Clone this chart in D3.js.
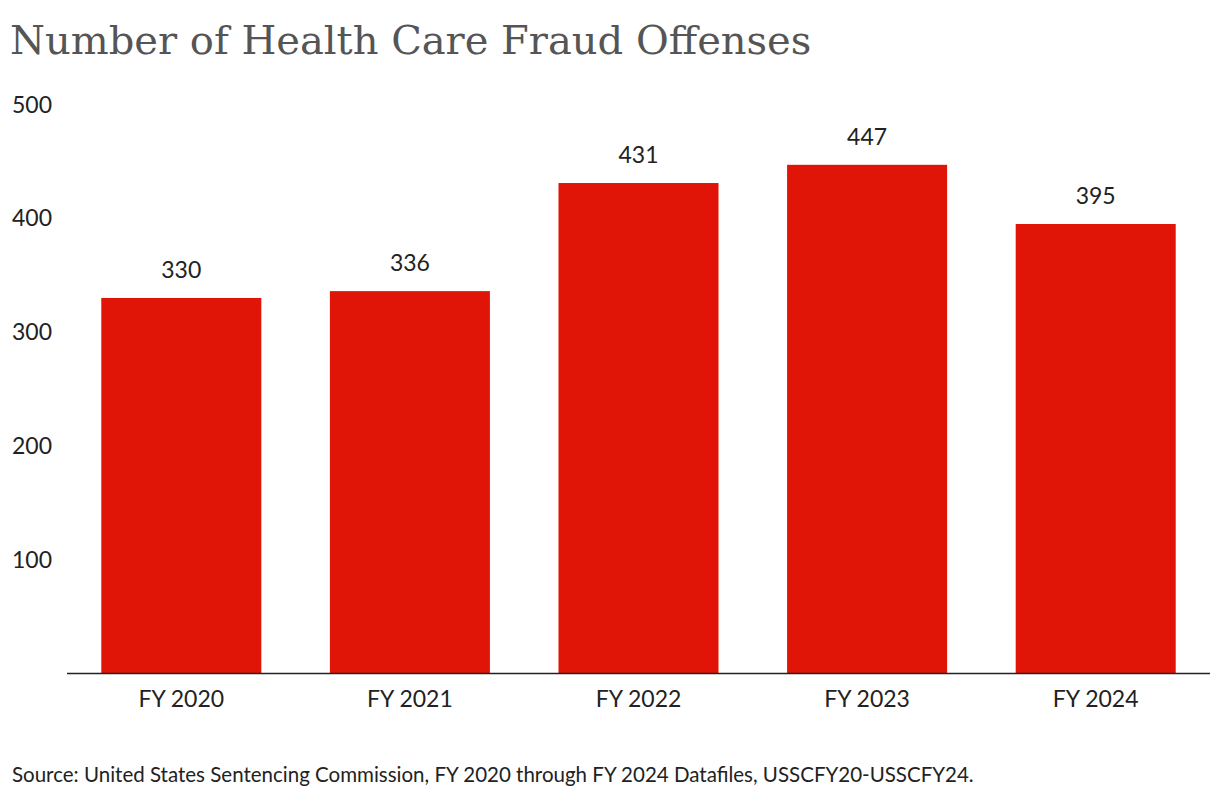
<!DOCTYPE html>
<html><head><meta charset="utf-8">
<script src="https://cdn.jsdelivr.net/npm/d3@7"></script>
<style>body{margin:0;background:#fff}text{font-family:Lato,sans-serif}</style>
</head><body><svg id="c" width="1220" height="802"></svg>
<script>
// data
var years = ["FY 2020", "FY 2021", "FY 2022", "FY 2023", "FY 2024"];
var offenses = [330, 336, 431, 447, 395];
var yTicks = [100, 200, 300, 400, 500];

var svg = d3.select("#c");
var x = d3.scaleBand().domain(years).range([67, 1210]).paddingInner(0.3).paddingOuter(0.15);
var y = d3.scaleLinear().domain([0, 500]).range([673.5, 104.5]);

svg.append("text").attr("x", 10).attr("y", 54)
    .style("font-family", "'DejaVu Serif',serif").style("font-size", "40px").attr("fill", "#555")
    .text("Number of Health Care Fraud Offenses");

svg.selectAll(".yl").data(yTicks).enter().append("text")
    .attr("x", 12).attr("y", function (d) { return y(d) + 8; })
    .style("font-size", "23px").attr("fill", "#222").text(function (d) { return d; });

svg.selectAll(".bar").data(offenses).enter().append("rect")
    .attr("x", function (d, i) { return x(years[i]); })
    .attr("width", x.bandwidth())
    .attr("y", function (d) { return y(d); })
    .attr("height", function (d) { return y(0) - y(d); })
    .attr("fill", "#e01507");

svg.selectAll(".vl").data(offenses).enter().append("text")
    .attr("x", function (d, i) { return x(years[i]) + x.bandwidth() / 2; })
    .attr("y", function (d) { return y(d) - 20; })
    .attr("text-anchor", "middle").style("font-size", "23px").attr("fill", "#222")
    .text(function (d) { return d; });

svg.append("line").attr("x1", 67).attr("x2", 1210).attr("y1", y(0)).attr("y2", y(0))
    .attr("stroke", "#222").attr("stroke-width", 1.5);

svg.selectAll(".xl").data(years).enter().append("text")
    .attr("x", function (d) { return x(d) + x.bandwidth() / 2; })
    .attr("y", 707).attr("text-anchor", "middle").style("font-size", "23px").attr("fill", "#222")
    .text(function (d) { return d; });

svg.append("text").attr("x", 12).attr("y", 782).style("font-size", "20.5px").attr("fill", "#222")
    .text("Source: United States Sentencing Commission, FY 2020 through FY 2024 Datafiles, USSCFY20-USSCFY24.");
</script></body></html>
